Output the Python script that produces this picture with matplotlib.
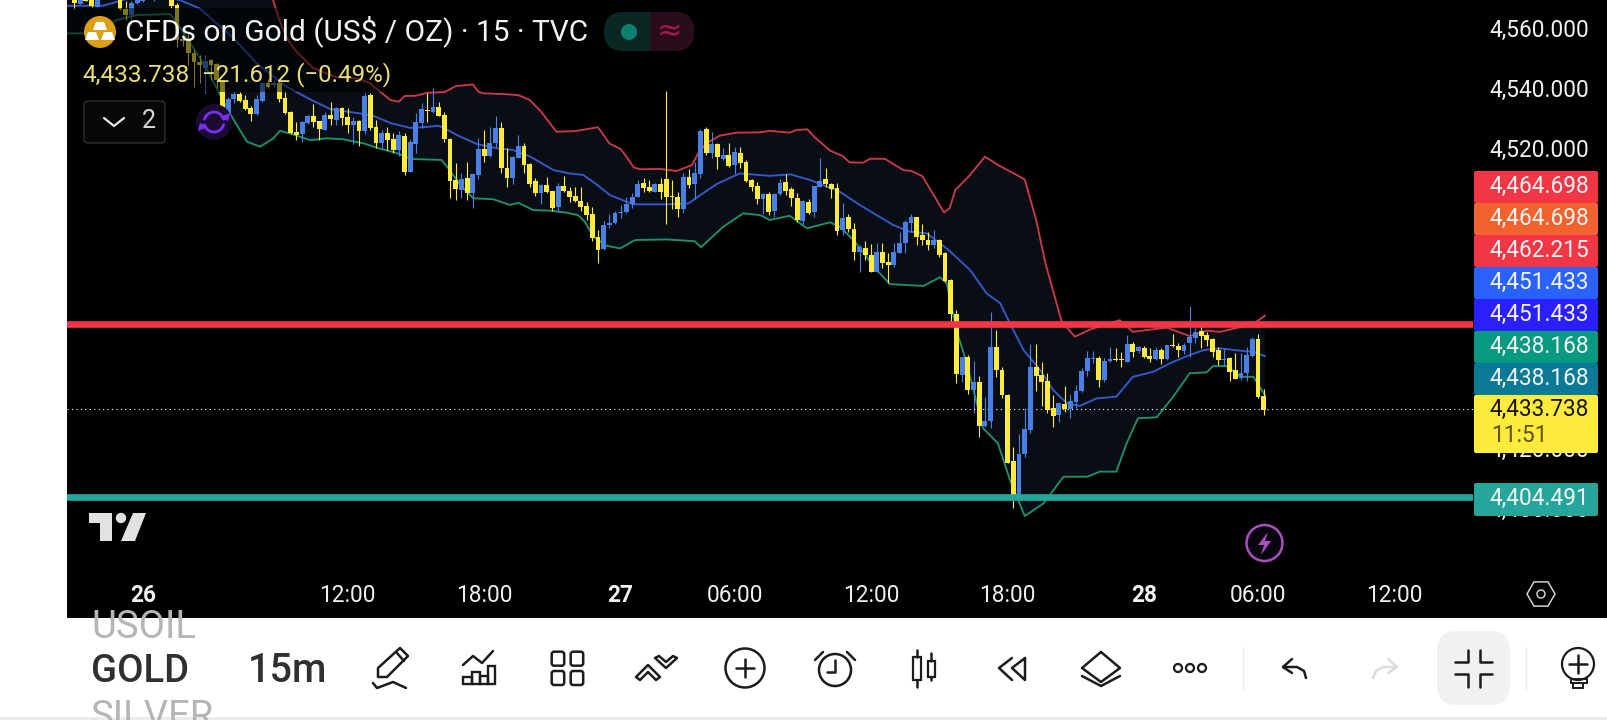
import numpy as np
import matplotlib
matplotlib.use("Agg")
import matplotlib.pyplot as plt
from matplotlib.patches import Rectangle, Circle, FancyBboxPatch, Polygon, Arc, RegularPolygon
from matplotlib.transforms import ScaledTranslation

plt.rcParams['font.family'] = ['Roboto', 'DejaVu Sans']

# 15 minute candles
opens = [4571.5,4568.9,4571.5,4572,4568,4574,4572,4574,4572,4567.2,
    4565.2,4569.3,4570,4574,4571,4574,4572,4570.5,4568.5,4557.1,
    4556.9,4552.4,4549.4,4547.4,4550.2,4548.8,4543.5,4531.9,4537.1,4538.8,
    4536.9,4534.1,4532.2,4536.7,4542.7,4541.9,4542.7,4537.4,4533,4526.2,
    4525.5,4529.3,4531.6,4530,4526.9,4531.9,4530.2,4534.1,4531.2,4528.7,
    4529.8,4526.6,4538.6,4527.9,4522.6,4525.8,4523.8,4520.2,4524.9,4513,
    4522.3,4529.3,4533.4,4533,4534.5,4531.9,4523.9,4510.2,4506.9,4510.8,
    4506,4511.9,4520.6,4518.2,4522.5,4527.5,4514.1,4511,4517.7,4521.6,
    4515.6,4509.9,4506,4508.6,4506.6,4501.3,4508.2,4506.7,4504.9,4503.3,
    4501.6,4498.9,4491.1,4487.2,4495.2,4496,4499.3,4499.6,4502.1,4504.7,
    4509.1,4507.8,4506.3,4508.8,4510.6,4504.8,4504.5,4500.7,4511.2,4508.9,
    4512.2,4527.1,4519.3,4522.2,4517.3,4518.5,4515.1,4519.1,4516.2,4510.2,
    4508.2,4504,4505.6,4500,4505.6,4509.5,4507.2,4504.2,4496.7,4503,
    4499.7,4508,4510.6,4508.9,4507.5,4493.6,4497.8,4493.9,4486.2,4487.6,
    4485.2,4479.7,4486.2,4482.9,4481.9,4486,4489.1,4496,4497.8,4491.8,
    4490.2,4488.5,4490.2,4486,4476.9,4465.6,4445.3,4451.1,4440.2,4443,
    4428.3,4430,4454.5,4446.9,4438.6,4416.6,4404.9,4418.9,4426.9,4447.8,
    4445.2,4443.2,4434.1,4431.9,4435.6,4434,4436.2,4439.9,4446.7,4450.6,
    4450.8,4443.6,4449.8,4450.5,4450.5,4449.7,4455.6,4453.1,4454.2,4451.6,
    4450.6,4453.6,4450.7,4455.1,4454.9,4453.2,4456,4457.5,4459.9,4458.6,
    4457.2,4453.6,4450.3,4450.9,4446.9,4444.1,4446,4451.7,4457.2,4438.2]
closes = [4569.1,4571,4569.9,4568.2,4572.5,4572,4574,4571,4567.1,4565.2,
    4569.3,4571,4572,4572,4573,4572.5,4573.5,4568.2,4556.9,4556.5,
    4552.4,4549.4,4548.5,4549.9,4548.5,4543.5,4533.5,4537.2,4538.8,4536.7,
    4533.9,4532.2,4537.1,4542.4,4541.3,4542.4,4537.1,4532.7,4526,4525.2,
    4529.5,4531.5,4529.7,4527.2,4531.9,4530.6,4534.1,4531,4528.6,4529.8,
    4526.6,4538.2,4527.7,4522.5,4525.8,4523.6,4520.2,4525.2,4513,4522.8,
    4529.5,4533.8,4533.2,4534.5,4531.7,4523.8,4510,4507.2,4510.5,4506,
    4512.1,4520.5,4518.2,4522.5,4527.5,4514.1,4511,4517.8,4521.6,4515.2,
    4508.9,4505.8,4508.6,4506.2,4500.8,4508.2,4506.6,4504.7,4503.3,4501.3,
    4498.6,4491,4486.9,4495.2,4495.8,4499.3,4499.6,4502.1,4504.7,4508.9,
    4507.6,4506.6,4508.8,4506.2,4504.7,4504.5,4500.7,4511.1,4508.6,4512.5,
    4526.6,4519.3,4522.1,4517.8,4518.5,4514.9,4519.5,4516,4509.9,4508,
    4504,4505.5,4499.7,4505.5,4509.1,4506.7,4504.3,4496.9,4503.1,4499.3,
    4508.2,4510,4508.8,4507.2,4493.3,4497.5,4493.9,4486.3,4488,4485.2,
    4479.7,4486.1,4482.7,4481.9,4486.3,4489.1,4496.1,4497.9,4491.3,4490.2,
    4488.5,4490.2,4485.2,4476.6,4465.6,4445.6,4451.1,4440.2,4443,4428.3,
    4430,4454.5,4446.9,4438.6,4416,4404.7,4418.9,4427.2,4447.8,4444.9,
    4443,4433.6,4431.7,4435.8,4433.8,4436.5,4439.8,4446.5,4450.8,4450.8,
    4443.6,4449.8,4450.6,4450.2,4450.1,4455.6,4453,4454.6,4451.1,4450.5,
    4453.5,4450.5,4455.1,4454.9,4453.6,4455.1,4457.8,4459.7,4458.3,4456.9,
    4453,4450.2,4450.6,4446.3,4444,4445.8,4451.8,4457.2,4438,4433.7]
highs = [4572.5,4572,4572,4572.5,4573,4575,4575,4575,4573,4570,
    4570,4572,4573,4575,4574,4575,4574,4573,4569.1,4559,
    4559.7,4553.5,4551.9,4551.9,4550.4,4549.1,4543.5,4538,4539.7,4539.7,
    4538.5,4534.9,4538.5,4542.7,4544,4543.5,4543.5,4539.7,4533.2,4529.4,
    4530,4531.9,4535.6,4530,4533,4536.3,4534.4,4534.4,4534.1,4531.3,
    4530.2,4539.3,4539.3,4530.2,4526.9,4528,4526,4526.7,4525.8,4523.8,
    4532.5,4535.8,4539.1,4540.8,4536.3,4533,4524.1,4515.8,4512.7,4516.1,
    4512.1,4524.1,4526.9,4528,4531.6,4529.5,4520.8,4518.2,4525.2,4522.7,
    4515.8,4510.8,4508.9,4511.1,4506.6,4509.1,4511.6,4507.8,4507.8,4507.8,
    4503,4501.3,4493.6,4496.7,4498.9,4499.9,4501.9,4504.7,4505.8,4510.2,
    4511,4510.2,4509.1,4511,4539.9,4510.2,4506.1,4512.5,4513.8,4516.3,
    4527.2,4528,4526.3,4522.7,4520.8,4522.5,4521.3,4521.1,4516.9,4510.7,
    4509.7,4505.8,4506.1,4505.8,4510.5,4512.1,4508,4505.8,4503.6,4503.8,
    4508.2,4517.5,4514.1,4509.1,4509.1,4502.5,4498.9,4495.8,4488.6,4490,
    4488.9,4489.3,4489.1,4485.8,4489.3,4493,4496.9,4498.8,4498,4495.6,
    4493,4493.6,4490.6,4486.3,4477.1,4466.9,4451.1,4451.9,4450,4445,
    4437.8,4466.3,4460.2,4448,4438.9,4421.1,4425.6,4434.1,4455.6,4455.6,
    4449.4,4446,4438.6,4436,4441.6,4438.9,4441.9,4447.5,4453.2,4453.2,
    4451.6,4450.8,4454.7,4454.1,4453,4458.6,4456.3,4454.9,4454.9,4454.1,
    4454.7,4454.1,4455.2,4458.9,4455.8,4455.8,4468.2,4460.8,4462.7,4459.7,
    4457.7,4454.5,4453.8,4451.3,4452.7,4452.7,4454.7,4458,4458.8,4440.6]
lows = [4567.1,4568.9,4569.8,4568,4568,4571,4571.5,4570.6,4566.9,4563.5,
    4561.9,4569,4569.6,4571,4570,4571.5,4571,4567.4,4554.7,4555,
    4548.5,4541.3,4542.4,4539.3,4543.5,4540.8,4527.4,4530.2,4535.8,4536.3,
    4533.5,4530,4531.9,4536.3,4541,4541.1,4536.3,4532.2,4525.5,4523.5,
    4523,4528.9,4528,4523.5,4526.9,4528.6,4528.6,4528.6,4526,4522.1,
    4521.7,4525.4,4526.9,4520.8,4520.5,4520.2,4519.3,4518.2,4511.9,4513,
    4519.1,4527.5,4529.7,4532.5,4531.7,4522.9,4504.1,4503.6,4504.3,4503.6,
    4500.8,4510.6,4516.3,4518,4521.3,4512.5,4508,4508.8,4517.5,4512.7,
    4508,4504.9,4502.2,4506,4500,4499.7,4506.1,4502.8,4503,4500,
    4496.9,4489.9,4482.7,4486.9,4494.3,4495.6,4497.5,4499.3,4500.8,4504.5,
    4506.3,4506.3,4506.1,4504,4495.6,4500.5,4497.8,4499.3,4507.5,4503.9,
    4510.8,4518.6,4517.5,4513.9,4516.9,4514.5,4512.2,4514.1,4509.6,4506.7,
    4502.1,4498.9,4498.6,4498,4505.2,4505.2,4501.6,4496.3,4495.6,4498.9,
    4498,4507.8,4508,4504.1,4491.8,4491.9,4493,4483.6,4479.7,4483.6,
    4479.7,4479.5,4480.8,4475.8,4481.3,4485.8,4485.8,4493,4488.6,4488.6,
    4486.9,4487.5,4484.5,4476.3,4462.1,4442.7,4443,4438.9,4432.5,4424.7,
    4428,4427.5,4444.7,4437.5,4416,4401,4404.7,4418,4426,4439.9,
    4434.9,4432.7,4428,4429.7,4433,4430.8,4434.1,4439.6,4444.9,4449.1,
    4441.3,4443,4449.7,4450,4447.8,4449.7,4451.3,4452.5,4450.8,4449.7,
    4450.2,4448.9,4450.2,4454.5,4451.1,4452.2,4451.1,4456,4454.1,4455,
    4451.3,4448.6,4448.2,4443.3,4443.8,4443.6,4443.2,4451.1,4437.7,4431.9]

# bands: bar number, price
upper_x = [-2,30,34.9,36,37.5,39,42,46,50,52,53,55.5,57,58,60,62,65,67,70,71,72,76,78,80,82,84.7,88,92,93,94,
    96,97,98.3,99.4,103,105.8,108.5,109.6,111,113.4,116.4,120.5,122.2,125.7,126.9,128.8,130,132.8,135,136.2,
    138.6,139.8,142.4,145.7,147,149,151,152.8,153.8,154.8,157.4,160,162.6,165,167,169,170.7,173.5,175.8,178.5,
    181,183.7,186,189.3,192,196,199,201.3,204,207,209.2]
upper = [4580,4578,4570.2,4563.5,4557,4553,4547.5,4544.5,4544,4542.4,4540.8,4536.9,4536.3,4538.2,4538.3,4539.3,4539.5,4541.5,4542.1,4539.6,
    4539.1,4538.8,4538.5,4536.9,4533,4526.3,4526.5,4527.8,4525.2,4522.4,
    4520.5,4518,4514.4,4513.8,4513.9,4513.2,4515.2,4519.1,4522.4,4525,4526,4526.1,4526.6,4526,4526.9,4527.1,4524.6,4520,4518.2,4516.1,
    4516,4517.3,4517.3,4513.5,4513.3,4511.5,4505.2,4499.4,4500.8,4506.9,4511.9,4518,4514.9,4512.5,4510.4,4497,4482,4463,4458,4460.4,
    4461.9,4463.5,4459.6,4460.4,4461,4458.2,4460,4459.6,4460.8,4462,4465]
mid_x = [-2,5,7.4,10,14,18.5,22,28,32,37.3,41.4,45,50.2,52.5,55.7,59,61.3,64,65.1,67.2,70.7,74.2,77.1,80.1,84.2,87,89.4,91.5,94.1,98.2,
    104.6,107.9,110,112.9,116.9,122.2,125.8,129.3,134.5,138,143.9,146.8,149.8,153.6,157.4,160.3,162.7,164.4,166.8,169.7,
    172,174.4,176.7,179.6,183.1,186,189.6,192.5,195.5,198.4,201.3,205.4,207.2,209.2]
mid = [4568.3,4568.3,4569.6,4571,4572,4570.2,4567.4,4557.4,4549.1,4541.3,4537.1,4533.8,4532.4,4531.6,4529.1,4527.6,4527.8,4528.3,4527.4,4525.2,
    4522.2,4520.8,4520.2,4518,4513.5,4512.4,4511.9,4509.1,4505.2,4502.1,4502.1,4502.4,4505.2,4508.9,4512.4,4511.6,4512.1,4510.2,4506.3,4501.9,
    4495.2,4493,4492.4,4486.9,4480.2,4472.4,4469.1,4462.4,4453.5,4446.9,4440.2,4435.8,4434.9,4437.4,4438,4444.6,4446.3,4449.1,4451.5,4453.5,
    4454.1,4453.2,4453,4451.5]
lower_x = [-2,3,7.4,11,16.8,17.7,23,25,27.3,30.3,32.6,34.9,36.1,37.9,41.4,44.3,47.2,50.8,53.4,56.6,59.3,64.5,65.7,67.8,70.1,73.6,76.5,78,80.6,83.6,
    86.5,88.5,89.7,91.2,93.5,95.9,98.5,104.1,109,110.1,114,117.5,120.5,122.2,125.7,128.7,132.8,134.5,136.9,141,
    143.3,149.2,152.1,153.3,155,156.8,159.7,162.3,164.4,167,170.3,173.8,178,180.2,183.1,184.9,186.9,190.2,193.1,196,
    199,200.1,202.5,204.9,207.2,209.2]
lower = [4559.1,4559.1,4563.5,4565.2,4565.5,4563.5,4548,4540.8,4532.4,4523,4521.3,4524,4526.6,4525.7,4523.5,4524.1,4523.8,4522.4,4520.8,4519.2,4517.2,4516.9,4514.1,4508.5,4504.1,4503.8,4501.9,4502.6,4500.2,4500,
    4499.3,4498.5,4496.3,4491.3,4488.3,4487.4,4490.2,4490.4,4489.8,4487.8,4494.6,4499.1,4498.5,4496.9,4498.3,4494.1,4496.1,4494.6,4490.2,4480.2,
    4475.5,4474.9,4477.8,4475.8,4460.2,4449.1,4427.4,4422.4,4410.2,4398.2,4402.4,4411.3,4411.3,4413,4413,4422.4,4430.8,4431.1,4438,4445.8,
    4446.1,4448.2,4448.2,4444.6,4444.6,4438.5]

resistance = 4462.215
support = 4404.491
last_price = 4433.738

price_ticks = [4560,4540,4520,4500,4480,4460,4440,4420,4400]
time_pos = [12,48,72,96,116,140,164,188,208,232]
time_labels = ['26','12:00','18:00','27','06:00','12:00','18:00','28','06:00','12:00']
day_labels = ['26','27','28']

tag_labels = ['4,464.698','4,464.698','4,462.215','4,451.433','4,451.433','4,438.168','4,438.168']
tag_colors = ['#f23645','#f2622f','#f23645','#2962ff','#2a1fff','#089981','#0a7a96']

W, H = 1608, 720
CHART_L, CHART_R, CHART_B = 67, 1473, 565
UP = '#4a80e6'
DOWN = '#ffeb3b'

fig = plt.figure(figsize=(W/100, H/100), dpi=100, facecolor='white')

# black backdrop of the whole chart, time scale and price scale included
back = fig.add_axes([0, 0, 1, 1], zorder=0)
back.set_xlim(0, W); back.set_ylim(H, 0); back.axis('off')
back.add_patch(Rectangle((CHART_L, 0), W-CHART_L, 618, color='black', lw=0))

ax = fig.add_axes([CHART_L/W, 1-CHART_B/H, (CHART_R-CHART_L)/W, CHART_B/H], zorder=1, facecolor='black')
ax.set_xlim((CHART_L-74.5)/5.69, (CHART_R-74.5)/5.69)
ax.set_ylim(resistance-(CHART_B-324)/3, resistance+108)

idx = np.arange(len(opens))
o = np.array(opens); c = np.array(closes); hi = np.array(highs); lo = np.array(lows)
cols = np.where(c >= o, UP, DOWN)

ax.fill(np.r_[upper_x, lower_x[::-1]], np.r_[upper, lower[::-1]], color='#080e14', lw=0, zorder=1)
ax.plot(upper_x, upper, color='#c9394a', lw=1.35, zorder=2)
ax.plot(mid_x, mid, color='#3558d0', lw=1.35, zorder=2)
ax.plot(lower_x, lower, color='#1f8f6e', lw=1.35, zorder=2)

ax.vlines(idx, lo, hi, colors=cols, lw=0.8, zorder=3)
body = np.maximum(np.abs(c-o), 0.35)
ax.bar(idx, body, bottom=np.minimum(o, c), width=0.85, color=cols, lw=0, zorder=4)

ax.axhline(last_price, color='white', lw=0.8, ls=(0, (1, 3)), zorder=3)
ax.axhline(resistance, color='#f23645', lw=4.8, zorder=5)
ax.axhline(support, color='#26a69a', lw=4.8, zorder=5)

for s in ax.spines.values():
    s.set_visible(False)
ax.yaxis.tick_right()
ax.set_yticks(price_ticks)
ax.set_yticklabels(['{:,.3f}'.format(p) for p in price_ticks], fontsize=16.3, color='#f0f0f0')
ax.tick_params(axis='y', length=0, pad=12)
for t in ax.get_yticklabels():
    t.set_transform(t.get_transform() + ScaledTranslation(0, 2.5/100, fig.dpi_scale_trans))
ax.set_xticks(time_pos)
ax.set_xticklabels(time_labels, fontsize=16.3, color='#f0f0f0')
ax.tick_params(axis='x', length=0, pad=14)
for t in ax.get_xticklabels():
    if t.get_text() in day_labels:
        t.set_fontweight('bold')

# everything on top of the chart, in pixels of the picture
ui = fig.add_axes([0, 0, 1, 1], zorder=2)
ui.set_xlim(0, W); ui.set_ylim(H, 0); ui.axis('off')

def stroke(xs, ys, color='#1c1c1c', lw=1.8):
    ui.plot(xs, ys, color=color, lw=lw, solid_capstyle='round', solid_joinstyle='round')

def outline(pts, lw=1.8):
    ui.add_patch(Polygon(pts, fc='none', ec='#1c1c1c', lw=lw, joinstyle='round'))

# the legend veil that dims candles behind the title
ui.add_patch(Rectangle((CHART_L, 8), 627, 42, color='black', alpha=0.5, lw=0))
ui.add_patch(Rectangle((CHART_L, 50), 325, 42, color='black', alpha=0.5, lw=0))

# header
ui.add_patch(Circle((100, 32), 16, color='#dba017', lw=0))
for cx, cy in [(100, 26), (92, 36), (108, 36)]:
    ui.add_patch(Polygon([(cx-4, cy-4), (cx+4, cy-4), (cx+7, cy+4), (cx-7, cy+4)], color='white', lw=0))
ui.text(125, 31, 'CFDs on Gold (US$ / OZ) · 15 · TVC', color='#f4f4f4', fontsize=21.5, va='center')
ui.text(82, 75, '4,433.738', color='#eadf72', fontsize=17.6, va='center')
ui.text(202, 75, '\u221221.612 (\u22120.49%)', color='#eadf72', fontsize=17.4, va='center')

ui.add_patch(FancyBboxPatch((604, 12), 90, 39, boxstyle='round,pad=0,rounding_size=19', color='#0a2823', lw=0))
ui.add_patch(FancyBboxPatch((650, 12), 44, 39, boxstyle='round,pad=0,rounding_size=19', color='#2a0d1c', lw=0))
ui.add_patch(Rectangle((650, 12), 20, 39, color='#2a0d1c', lw=0))
ui.add_patch(Circle((629, 32), 8, color='#0e8070', lw=0))
ui.text(670, 32, '\u2248', color='#a8174f', fontsize=22, va='center', ha='center', family='DejaVu Sans')

ui.add_patch(FancyBboxPatch((84, 101), 81, 42, boxstyle='round,pad=0,rounding_size=4', fc='#070707', ec='#333333', lw=0.9))
stroke([104, 114, 124], [118, 126, 118], color='#e8e8e8', lw=1.6)
ui.text(149, 121, '2', color='#d8d8d8', fontsize=18, va='center', ha='center')

ui.add_patch(Circle((214, 122), 18, color='#1a0c30', lw=0))
ui.add_patch(Arc((214, 122), 20, 20, theta1=190, theta2=350, color='#7a2ff2', lw=2))
ui.add_patch(Arc((214, 122), 20, 20, theta1=10, theta2=170, color='#7a2ff2', lw=2))
ui.add_patch(Polygon([(220, 117), (228, 121), (230, 113)], color='#7a2ff2', lw=0))
ui.add_patch(Polygon([(208, 127), (200, 123), (198, 131)], color='#7a2ff2', lw=0))

# TradingView mark
ui.add_patch(Polygon([(89, 513), (112, 513), (112, 541), (100, 541), (100, 523), (89, 523)], color='#e2e2e2', lw=0))
ui.add_patch(Circle((121, 518), 5.2, color='#e2e2e2', lw=0))
ui.add_patch(Polygon([(133, 513), (146, 513), (135, 541), (121, 541)], color='#e2e2e2', lw=0))

# lightning button
ui.add_patch(Circle((1264.5, 543), 18, fc='#0a0410', ec='#a94fc0', lw=1.8))
ui.add_patch(Polygon([(1268, 532), (1258, 545), (1264, 545), (1261, 555), (1271, 541), (1265, 541)], color='#a94fc0', lw=0))

# settings hexagon
ui.add_patch(RegularPolygon((1541, 594), 6, radius=14, orientation=np.pi/6, fc='none', ec='#d0d0d0', lw=1.1))
ui.add_patch(Circle((1541, 594), 4, fc='none', ec='#d0d0d0', lw=1.1))

# price tags
ui.add_patch(Rectangle((1474, 172), 124, 280, color='black', lw=0))
y = 171
for lab, col in zip(tag_labels, tag_colors):
    ui.add_patch(FancyBboxPatch((1474, y), 124, 32, boxstyle='round,pad=0,rounding_size=2', color=col, lw=0))
    ui.text(1589, y+15.5, lab, color='#f4f4f4', fontsize=16.3, va='center', ha='right')
    y += 32
ui.add_patch(FancyBboxPatch((1474, 395), 124, 58, boxstyle='round,pad=0,rounding_size=2', color='#ffeb3b', lw=0))
ui.text(1589, 409, '4,433.738', color='#131313', fontsize=16.3, va='center', ha='right')
ui.text(1491, 435, '11:51', color='#5c5200', fontsize=16.3, va='center')
ui.add_patch(FancyBboxPatch((1474, 483), 124, 33, boxstyle='round,pad=0,rounding_size=2', color='#26a69a', lw=0))
ui.text(1589, 498, '4,404.491', color='#f4f4f4', fontsize=16.3, va='center', ha='right')

# bottom toolbar
ui.add_patch(Rectangle((0, 717), W, 3, color='#ececec', lw=0))
clip = Rectangle((0, 618), W, 99, transform=ui.transData)
for lab, yy, col in [('USOIL', 638, '#b5b5b5'), ('SILVER', 728, '#b5b5b5')]:
    t = ui.text(91, yy, lab, color=col, fontsize=27.5, va='baseline')
    t.set_clip_path(clip)
ui.text(91, 682, 'GOLD', color='#303030', fontsize=27.5, fontweight='medium', va='baseline')
ui.text(248, 682, '15m', color='#303030', fontsize=28.5, fontweight='medium', va='baseline')

# pencil
outline([(378, 668), (400, 648), (408, 656), (387, 677), (378, 677)])
stroke([396, 404], [652, 661])
stroke([373, 377, 393, 406], [683, 688, 682, 688])
# chart icon
stroke([463, 473, 482, 493], [665, 656, 663, 651])
for bx, bt, bw in [(463.3, 676.7, 8.4), (471.7, 672, 8.3), (480, 675.7, 8), (488, 665.7, 7)]:
    ui.add_patch(Rectangle((bx, bt), bw, 684-bt, fc='none', ec='#1c1c1c', lw=1.7))
# grid
for bx in [551.7, 570.7]:
    for by in [651.7, 671]:
        ui.add_patch(FancyBboxPatch((bx, by), 12.5, 14, boxstyle='round,pad=0,rounding_size=2.5', fc='none', ec='#1c1c1c', lw=1.8))
# chevrons
outline([(636, 677), (648, 665), (660, 677), (656, 680), (648, 672), (640, 680)])
outline([(655, 658), (666, 668), (677, 658), (673, 656), (666, 662), (659, 656)])
# plus in circle
ui.add_patch(Circle((745, 668), 19.5, fc='none', ec='#1c1c1c', lw=1.8))
stroke([736, 754], [668, 668]); stroke([745, 745], [659, 677])
# alarm
ui.add_patch(Circle((835, 670), 16, fc='none', ec='#1c1c1c', lw=1.8))
stroke([835, 835, 827], [660, 672, 672]); stroke([815, 823], [660, 652]); stroke([847, 855], [652, 660])
# candles
ui.add_patch(Rectangle((913, 657), 8, 23, fc='none', ec='#1c1c1c', lw=1.6))
ui.add_patch(Rectangle((928, 661), 7, 16, fc='none', ec='#1c1c1c', lw=1.6))
stroke([917, 917], [650, 657]); stroke([917, 917], [680, 687]); stroke([931, 931], [653, 661]); stroke([931, 931], [677, 680])
# rewind
stroke([1012, 999, 1012], [658, 668, 680]); stroke([1025, 1012, 1025, 1025], [658, 668, 680, 658])
# layers
stroke([1101, 1120, 1101, 1082, 1101], [652, 668, 682, 668, 652]); stroke([1082, 1101, 1120], [676, 686, 676])
# more
for dx in [1178, 1190, 1202]:
    ui.add_patch(Circle((dx, 668), 4, fc='none', ec='#1c1c1c', lw=1.6))
stroke([1243, 1243], [647, 690], color='#ececec', lw=1)
stroke([1526, 1526], [647, 690], color='#ececec', lw=1)
# undo, redo
stroke([1292, 1283, 1292], [659, 667, 673]); stroke([1283, 1297, 1304, 1306], [667, 667, 671, 678])
stroke([1388, 1397, 1388], [659, 667, 673], color='#dcdcdc'); stroke([1397, 1383, 1376, 1373], [667, 667, 671, 678], color='#dcdcdc')
# compress
ui.add_patch(FancyBboxPatch((1437, 631), 73, 74, boxstyle='round,pad=0,rounding_size=20', color='#f1f1f1', lw=0))
stroke([1455, 1468, 1468], [662, 662, 650]); stroke([1480, 1480, 1492], [650, 662, 662])
stroke([1455, 1468, 1468], [674, 674, 687]); stroke([1480, 1480, 1492], [687, 674, 674])
# bulb
ui.add_patch(Circle((1578, 664), 16, fc='none', ec='#1c1c1c', lw=1.6))
stroke([1569, 1587], [664, 664]); stroke([1578, 1578], [655, 673])
ui.add_patch(Rectangle((1571, 679), 16, 4, fc='none', ec='#1c1c1c', lw=1.4))
ui.add_patch(Rectangle((1573, 683), 10, 5, fc='none', ec='#1c1c1c', lw=1.4))

fig.savefig('out.png', dpi=100, facecolor='white')
